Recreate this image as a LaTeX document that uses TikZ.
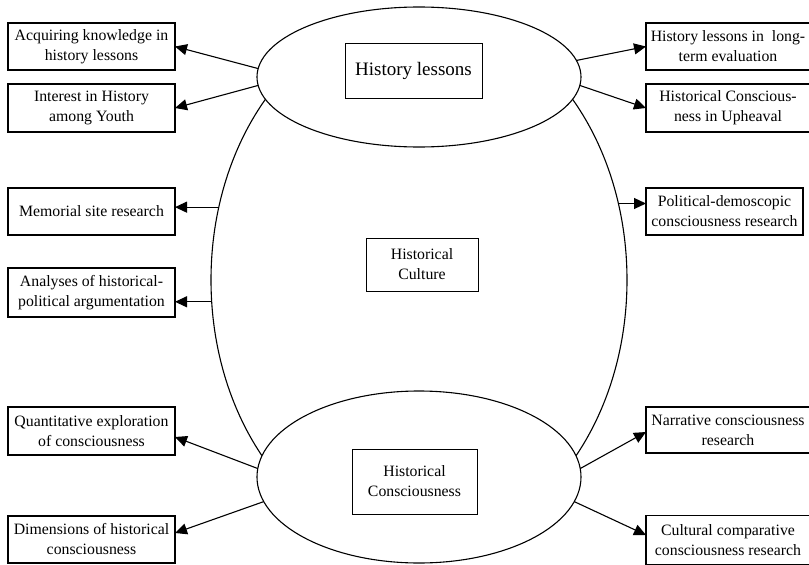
\documentclass[tikz,border=0pt]{standalone}
\usepackage{fontspec}
\setmainfont{Liberation Serif}
\usetikzlibrary{shapes.geometric,arrows.meta}
\begin{document}
\begin{tikzpicture}[x=1pt,y=-1pt,
  outerbox/.style={draw,line width=1.8pt,minimum width=167pt,minimum height=47pt,inner sep=0pt,outer sep=0pt,align=center,font=\fontsize{15.8}{20}\selectfont},
  innerbox/.style={draw,line width=1pt,inner sep=0pt,outer sep=0pt,align=center,font=\fontsize{15.8}{20}\selectfont},
  oval/.style={draw,ellipse,line width=1.1pt,inner sep=0pt,outer sep=0pt,fill=white},
  arr/.style={line width=1.1pt,-{Triangle[length=12pt,width=11pt]}}]
\useasboundingbox[fill=white] (0,0) rectangle (809,565);
\node[oval,minimum width=416pt,minimum height=536pt] (cult) at (419,280) {};
\node[oval,minimum width=324pt,minimum height=140pt] (top) at (419,77) {};
\node[oval,minimum width=324pt,minimum height=172pt] (bot) at (419,477) {};
\node[innerbox,minimum width=137pt,minimum height=55pt,font=\fontsize{19}{23}\selectfont] (hl) at (413.5,70.5) {History lessons};
\node[innerbox,minimum width=112pt,minimum height=53pt] (hc) at (422,264.5) {Historical\\Culture};
\node[innerbox,minimum width=125pt,minimum height=65pt] (hcons) at (414.5,481.5) {Historical\\Consciousness};
\node[outerbox] (a1) at (91.5,46.5) {Acquiring knowledge in\\history lessons};
\node[outerbox,minimum height=48pt] (a2) at (91.5,108) {Interest in History\\among Youth};
\node[outerbox] (a3) at (91.5,211.5) {Memorial site research};
\node[outerbox,minimum height=49pt] (a4) at (91.5,292.5) {Analyses of historical-\\political argumentation};
\node[outerbox,minimum height=48pt] (a5) at (91.5,431) {Quantitative exploration\\of consciousness};
\node[outerbox] (a6) at (91.5,539.5) {Dimensions of historical\\consciousness};
\node[outerbox,minimum width=164pt] (b1) at (728,46.5) {History lessons in\ \ long-\\term evaluation};
\node[outerbox,minimum width=164pt,minimum height=48pt] (b2) at (728,108) {Historical Conscious-\\ness in Upheaval};
\node[outerbox,minimum width=157pt] (b3) at (724.5,211.5) {Political-demoscopic\\consciousness research};
\node[outerbox,minimum width=164pt,minimum height=46pt] (b4) at (728,430) {Narrative consciousness\\research};
\node[outerbox,minimum width=164pt,minimum height=49pt] (b5) at (728,540) {Cultural comparative\\consciousness research};
\draw[arr] (top.177) -- (a1.east);
\draw[arr] (top.183) -- (a2.east);
\draw[arr] (cult.160) -- (a3.east |- cult.160);
\draw[arr] (cult.186) -- (a4.east |- cult.186);
\draw[arr] (bot.177) -- ([yshift=-6pt]a5.east);
\draw[arr] (bot.189) -- ([yshift=6.5pt]a6.east);
\draw[arr] (top.6) -- (b1.west);
\draw[arr] (top.357) -- (b2.west);
\draw[arr] (cult.21) -- (b3.west |- cult.21);
\draw[arr] (bot.3) -- ([yshift=-2pt]b4.west);
\draw[arr] (bot.351) -- ([yshift=5pt]b5.west);
\end{tikzpicture}
\end{document}
